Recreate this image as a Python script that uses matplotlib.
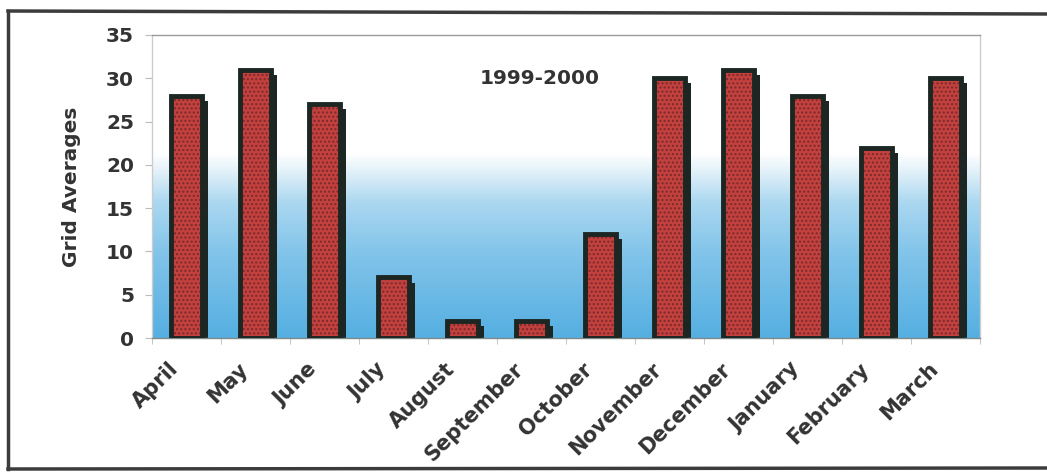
import numpy as np
import matplotlib
matplotlib.use("Agg")
import matplotlib.pyplot as plt
import matplotlib.transforms as mtransforms
from matplotlib.colors import LinearSegmentedColormap
from matplotlib.lines import Line2D

months = ["April", "May", "June", "July", "August", "September", "October",
          "November", "December", "January", "February", "March"]
grid_averages = [28, 31, 27, 7, 2, 2, 12, 30, 31, 28, 22, 30]
y_ticks = [0, 5, 10, 15, 20, 25, 30, 35]
period_label = "1999-2000"

plt.rcParams["font.family"] = ["DejaVu Sans"]

fig = plt.figure(figsize=(10.47, 4.74), dpi=100)
ax = fig.add_axes([152 / 1047, 1 - 338 / 474, 828 / 1047, 303 / 474])

n = len(months)
x = np.arange(n)
ax.set_xlim(-0.5, n - 0.5)
ax.set_ylim(0, 35)

# sky-style background: white at the top fading into blue at the base
cmap = LinearSegmentedColormap.from_list(
    "sky", [(0.0, "#55afe1"), (0.28, "#82c4ea"), (0.45, "#acd8f0"),
            (0.55, "#e2f1f9"), (0.61, "#ffffff"), (1.0, "#ffffff")])
grad = np.linspace(0, 1, 256).reshape(-1, 1)
ax.imshow(grad, cmap=cmap, aspect="auto", origin="lower",
          extent=(-0.5, n - 0.5, 0, 35), zorder=0)

bar_w = 0.44
# drop shadow behind each bar
ax.bar(x + 0.09, np.array(grid_averages) - 0.6, bottom=0, width=bar_w,
       color="#1c2623", zorder=2)
bars = ax.bar(x, grid_averages, width=bar_w, color="#c2413f",
              edgecolor="#1c2623", linewidth=3.5, hatch="....", zorder=3)
for b in bars:
    b._hatch_color = matplotlib.colors.to_rgba("#7a2a2a")

for s in ["left", "right"]:
    ax.spines[s].set_color("#cccccc")
    ax.spines[s].set_linewidth(1.0)
ax.spines["top"].set_color("#9a9a9a")
ax.spines["top"].set_linewidth(1.0)
ax.spines["bottom"].set_color("#808a8a")
ax.spines["bottom"].set_linewidth(1.0)

ax.set_yticks(y_ticks)
ax.set_yticklabels([str(v) for v in y_ticks], fontsize=14.5, fontweight="bold", color="#333333")
ax.tick_params(axis="y", length=5, color="#bbbbbb", pad=8)

ax.set_xticks(x)
ax.set_xticklabels(months, rotation=45, ha="right", rotation_mode="anchor",
                   fontsize=15, fontweight="bold", color="#333333")
ax.tick_params(axis="x", length=0, pad=10)
shift = mtransforms.ScaledTranslation(-18 / 100, -7 / 100, fig.dpi_scale_trans)
for lbl in ax.get_xticklabels():
    lbl.set_transform(lbl.get_transform() + shift)
ax.set_xticks(np.arange(-0.5, n, 1), minor=True)
ax.tick_params(axis="x", which="minor", length=4, color="#bbbbbb")

ax.set_ylabel("Grid Averages", fontsize=14.5, fontweight="bold", color="#333333", labelpad=18)
ax.text(5.12, 30.0, period_label, fontsize=14.5, fontweight="bold",
        color="#333333", ha="center", va="center", zorder=5)

# outer frame around the whole chart
frame_kw = dict(color="#3c3c3c", linewidth=2.5, transform=fig.transFigure)
fig.add_artist(Line2D([8 / 1047, 8 / 1047], [1 - 11 / 474, 1 - 469 / 474], **frame_kw))
fig.add_artist(Line2D([8 / 1047, 1.0], [1 - 11 / 474, 1 - 14 / 474], **frame_kw))
fig.add_artist(Line2D([8 / 1047, 1.0], [1 - 469 / 474, 1 - 468 / 474], **frame_kw))

fig.savefig("out.png", dpi=100)
